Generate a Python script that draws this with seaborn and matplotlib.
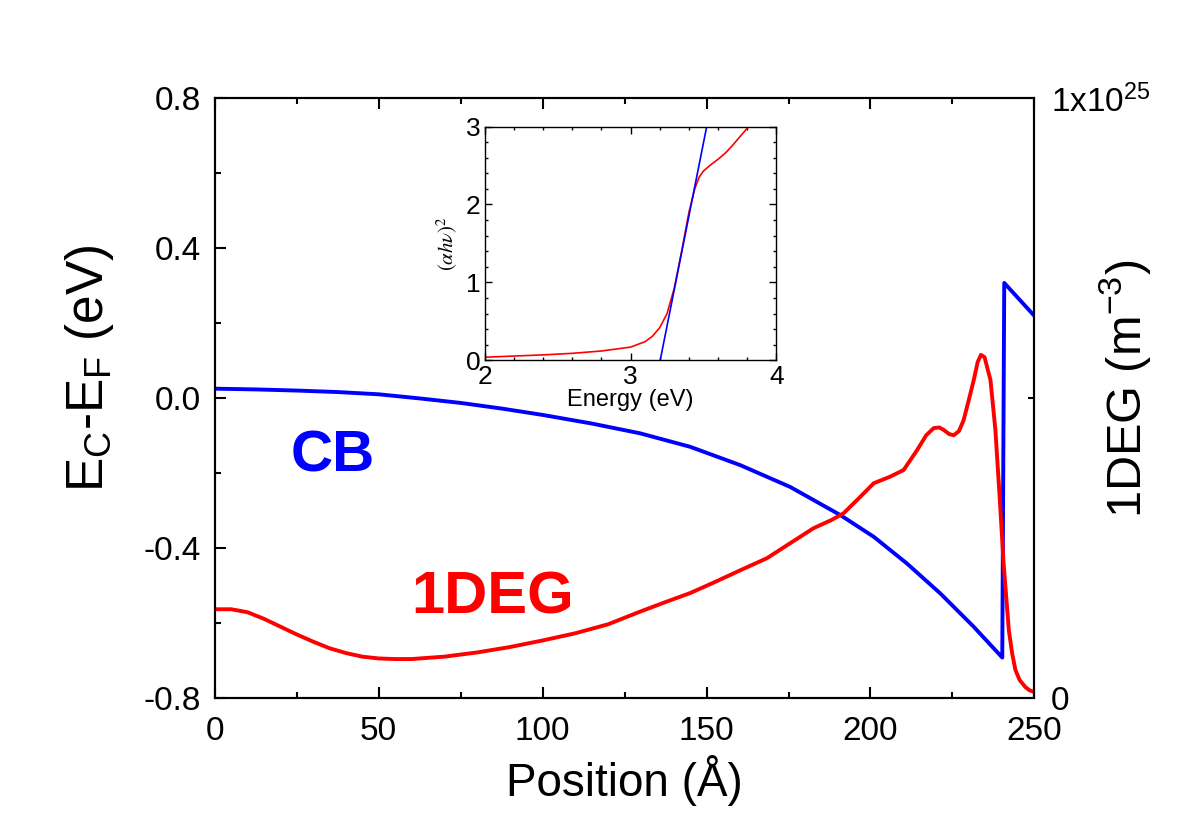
import matplotlib
matplotlib.use("Agg")
import matplotlib.pyplot as plt
from matplotlib.ticker import MultipleLocator, FixedLocator
import numpy as np
import seaborn as sns

# conduction band edge, E_C - E_F (eV) vs position (Angstrom)
cb_pos = [0, 12.5, 25, 37.5, 50, 62.5, 75, 87.5, 100, 115, 129.7, 145, 160.3,
          175.5, 190.8, 201, 211.1, 221.3, 231.5, 240.2, 240.8, 250]
cb_energy = [0.025, 0.023, 0.020, 0.016, 0.010, -0.001, -0.013, -0.028, -0.045,
             -0.068, -0.094, -0.130, -0.179, -0.237, -0.312, -0.370, -0.441,
             -0.521, -0.610, -0.692, 0.307, 0.219]

# 1DEG density (units of 1e25 m^-3)
deg_pos = [0, 5, 10, 15, 20, 25, 30, 35, 40, 45, 50, 55, 60, 70, 80, 90, 100,
           110, 120, 129.7, 137, 145, 152, 160.3, 168.4, 175.5, 182.6, 188.2,
           191.8, 195.9, 201, 206, 210.1, 214.2, 217, 219.3, 221, 222.3, 224,
           225.4, 227, 228.4, 230, 231.5, 232.7, 233.7, 234.8, 236.6, 238.1,
           239.4, 240.6, 242.2, 243.2, 244.2, 245.5, 247.3, 248.5, 250]
deg_density = [0.148, 0.148, 0.143, 0.132, 0.119, 0.106, 0.094, 0.083, 0.075,
               0.069, 0.066, 0.065, 0.065, 0.069, 0.076, 0.085, 0.096, 0.108,
               0.123, 0.144, 0.159, 0.175, 0.192, 0.213, 0.233, 0.258, 0.283,
               0.297, 0.308, 0.330, 0.358, 0.369, 0.380, 0.413, 0.438, 0.450,
               0.451, 0.447, 0.440, 0.438, 0.445, 0.463, 0.497, 0.530, 0.560,
               0.572, 0.568, 0.530, 0.447, 0.335, 0.225, 0.113, 0.075, 0.047,
               0.030, 0.018, 0.013, 0.010]

# inset: Tauc plot
tauc_energy = [2.0, 2.2, 2.4, 2.6, 2.8, 3.0, 3.1, 3.15, 3.2, 3.25, 3.3, 3.35,
               3.4, 3.44, 3.47, 3.5, 3.55, 3.6, 3.65, 3.7, 3.75, 3.81]
tauc_value = [0.04, 0.055, 0.07, 0.09, 0.12, 0.17, 0.24, 0.31, 0.42, 0.60, 0.93,
              1.40, 1.90, 2.20, 2.35, 2.43, 2.51, 2.58, 2.66, 2.76, 2.87, 3.0]
fit_energy = [3.203, 3.522]
fit_value = [0.0, 3.0]

sns.set_style("ticks")
plt.rcParams["font.family"] = ["Liberation Sans", "DejaVu Sans"]
plt.rcParams["mathtext.fontset"] = "custom"
plt.rcParams["mathtext.rm"] = "Liberation Sans"
plt.rcParams["mathtext.it"] = "Liberation Sans:italic"
plt.rcParams["axes.linewidth"] = 1.5
plt.rcParams["axes.edgecolor"] = "black"
plt.rcParams["text.color"] = "black"
plt.rcParams["axes.labelcolor"] = "black"
plt.rcParams["xtick.color"] = "black"
plt.rcParams["ytick.color"] = "black"

fig = plt.figure(figsize=(12, 8.38), dpi=100)
ax = fig.add_axes([0.179, 0.167, 0.683, 0.716])
ax2 = ax.twinx()

sns.lineplot(x=cb_pos, y=cb_energy, ax=ax, color="#0000ff", linewidth=2.8, sort=False)
sns.lineplot(x=np.array(deg_pos), y=np.array(deg_density) * 1e25, ax=ax2,
             color="#ff0000", linewidth=2.8, sort=False)

ax.set_xlim(0, 250)
ax.set_ylim(-0.8, 0.8)
ax2.set_ylim(0, 1e25)
ax.xaxis.set_major_locator(MultipleLocator(50))
ax.xaxis.set_minor_locator(MultipleLocator(25))
ax.yaxis.set_major_locator(FixedLocator([-0.8, -0.4, 0.0, 0.4, 0.8]))
ax.yaxis.set_minor_locator(MultipleLocator(0.2))
ax.set_yticklabels(["-0.8", "-0.4", "0.0", "0.4", "0.8"])
ax.tick_params(which="both", direction="in", top=True, right=False, labelsize=24,
               width=1.5)
ax.tick_params(axis="x", pad=13)
ax.tick_params(axis="y", pad=10)
ax.tick_params(which="major", length=8)
ax.tick_params(which="minor", length=4)

ax2.yaxis.set_major_locator(FixedLocator([0, 1e25]))
ax2.yaxis.set_minor_locator(FixedLocator([0.5e25]))
ax2.set_yticklabels(["0", r"1x10$^{25}$"])
ax2.tick_params(which="both", direction="in", labelsize=24, width=1.5, pad=12)
ax2.tick_params(which="major", length=0)
ax2.tick_params(which="minor", length=4)
ax2.yaxis.get_offset_text().set_visible(False)

ax.set_xlabel("Position (Å)", fontsize=33, labelpad=6)
ax.set_ylabel(r"E$_\mathrm{C}$-E$_\mathrm{F}$ (eV)", fontsize=37)
ax.yaxis.set_label_coords(-0.12, 0.55)
ax2.set_ylabel(r"1DEG (m$^{-3}$)", fontsize=35, va="center")
ax2.yaxis.set_label_coords(1.111, 0.515)

ax.text(36, -0.157, "CB", color="#0000ff", fontsize=42, fontweight="bold",
        ha="center", va="center")
ax.text(84.6, -0.533, "1DEG", color="#ff0000", fontsize=43, fontweight="bold",
        ha="center", va="center")

# inset
axin = fig.add_axes([0.404, 0.570, 0.243, 0.279])
sns.lineplot(x=tauc_energy, y=tauc_value, ax=axin, color="#ff0000", linewidth=1.2, sort=False)
sns.lineplot(x=fit_energy, y=fit_value, ax=axin, color="#0000ff", linewidth=1.2, sort=False)
axin.set_xlim(2, 4)
axin.set_ylim(0, 3)
axin.xaxis.set_major_locator(MultipleLocator(1))
axin.xaxis.set_minor_locator(MultipleLocator(0.2))
axin.yaxis.set_major_locator(MultipleLocator(1))
axin.yaxis.set_minor_locator(MultipleLocator(0.2))
for sp in axin.spines.values():
    sp.set_linewidth(1.0)
axin.tick_params(which="both", direction="in", top=True, right=True, labelsize=19,
                 width=1.0, pad=3)
axin.tick_params(which="major", length=5)
axin.tick_params(which="minor", length=2.5)
axin.set_xlabel("Energy (eV)", fontsize=17, labelpad=0)
axin.set_ylabel(r"$(\alpha h\nu)^2$", fontsize=15, math_fontfamily="stix", labelpad=4)

plt.savefig("out.png", dpi=100)
